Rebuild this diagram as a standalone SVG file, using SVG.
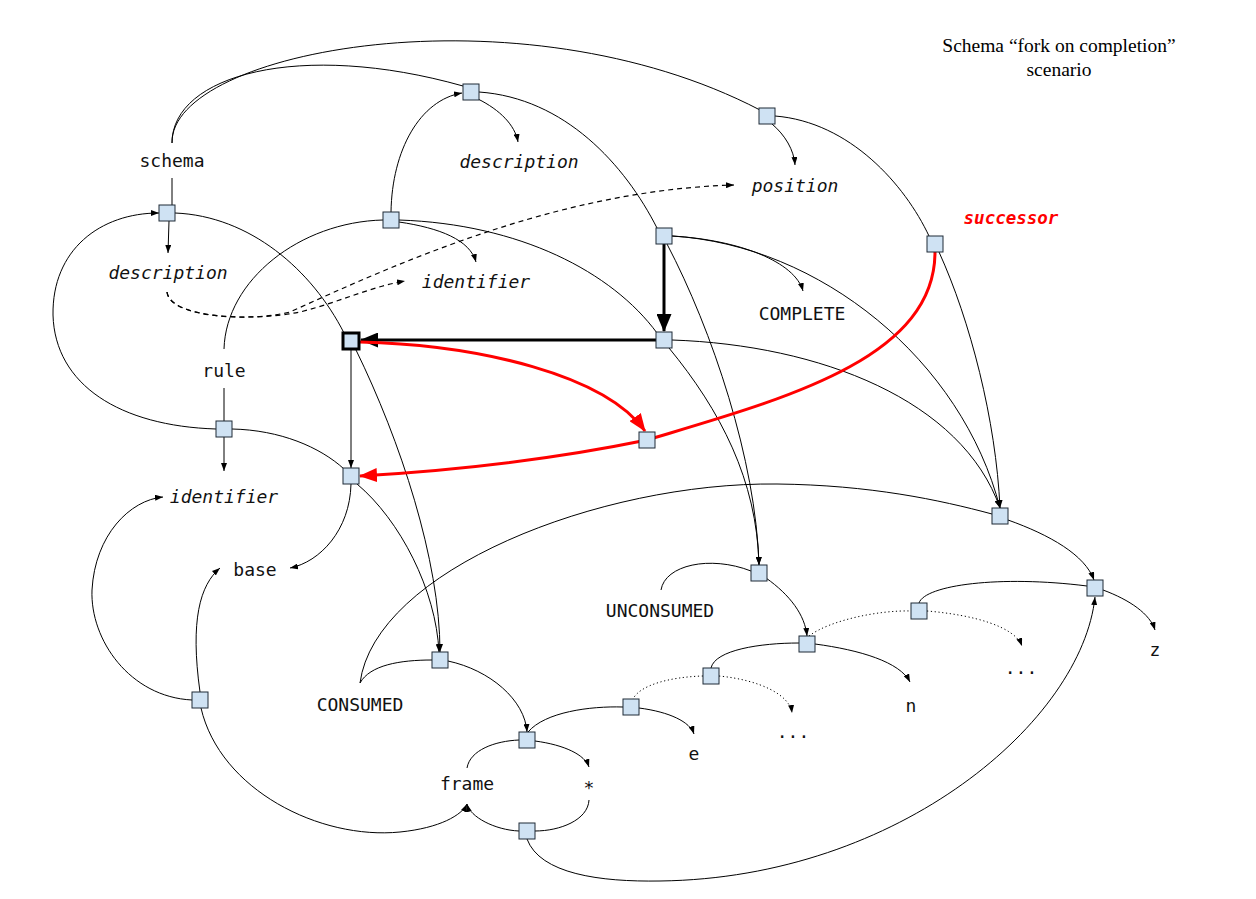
<svg xmlns="http://www.w3.org/2000/svg" width="1256" height="899" viewBox="0 0 1256 899">
  <style>
    .ln { fill: none; stroke: #000; stroke-width: 1; }
    .dash { fill: none; stroke: #000; stroke-width: 1.2; stroke-dasharray: 5 4; }
    .dot { fill: none; stroke: #000; stroke-width: 1; stroke-dasharray: 1.2 2.6; }
    .thick { fill: none; stroke: #000; stroke-width: 3; }
    .red { fill: none; stroke: #f00; stroke-width: 3; }
    .box { fill: #cfe2f3; stroke: #1f2a36; stroke-width: 1; }
    .bold { fill: #cfe2f3; stroke: #000; stroke-width: 3; }
    .t { font-family: "DejaVu Sans Mono", "Liberation Mono", monospace; font-size: 18px; fill: #111; text-anchor: middle; }
    .i { font-style: italic; }
    .succ { font-family: "DejaVu Sans Mono", "Liberation Mono", monospace; font-size: 17.5px; font-style: italic; font-weight: bold; fill: #f00; text-anchor: middle; }
    .title { font-family: "Liberation Serif", "Times New Roman", serif; font-size: 19.5px; fill: #000; text-anchor: middle; }
  </style>
  <defs>
    <marker id="a" markerUnits="userSpaceOnUse" markerWidth="8" markerHeight="6" viewBox="0 0 8 6" refX="8" refY="3" orient="auto">
      <path d="M0,0 L8,3 L0,6 z" fill="#000"/>
    </marker>
    <marker id="ab" markerUnits="userSpaceOnUse" markerWidth="18" markerHeight="15" viewBox="0 0 18 15" refX="17" refY="7.5" orient="auto">
      <path d="M0,0 L18,7.5 L0,15 z" fill="#000"/>
    </marker>
    <marker id="ar" markerUnits="userSpaceOnUse" markerWidth="18" markerHeight="14" viewBox="0 0 18 14" refX="17" refY="7" orient="auto">
      <path d="M0,0 L18,7 L0,14 z" fill="#f00"/>
    </marker>
  </defs>

  <rect width="1256" height="899" fill="#fff"/>

  <g id="connectors">
    <!-- schema arcs over the top -->
    <path class="ln" d="M172,143 C172,75 300,40 463,86"/>
    <path class="ln" d="M172,143 C170,50 520,-15 760,110"/>
    <path class="ln" d="M479,92 C565,98 625,165 657,228"/>
    <path class="ln" d="M775,116 C850,122 905,185 929,236"/>
    <path class="ln" d="M478,99 C500,110 515,125 518,142" marker-end="url(#a)"/>
    <path class="ln" d="M772,124 C785,135 794,150 795,165" marker-end="url(#a)"/>
    <!-- rule -->
    <path class="ln" d="M391,212 C392,150 420,100 462,93" marker-end="url(#a)"/>
    <path class="ln" d="M399,222 C440,228 470,240 476,262" marker-end="url(#a)"/>
    <path class="ln" d="M224,349 C226,280 300,222 383,220"/>
    <path class="ln" d="M399,220 C520,224 612,272 657,333"/>
    <!-- schema down -->
    <path class="ln" d="M172,178 L172,205"/>
    <path class="ln" d="M169,221 L168,253" marker-end="url(#a)"/>
    <path class="ln" d="M175,213 C250,216 312,270 344,333"/>
    <path class="ln" d="M216,429 C120,426 55,385 53,315 C52,250 100,213 159,213" marker-end="url(#a)"/>
    <!-- rule down -->
    <path class="ln" d="M224,388 L224,421"/>
    <path class="ln" d="M224,437 L224,471" marker-end="url(#a)"/>
    <path class="ln" d="M232,429 C280,430 320,447 344,469"/>
    <!-- dashed references -->
    <path class="dash" d="M167,292 C170,318 250,322 300,312 C340,302 370,287 405,281" marker-end="url(#a)"/>
    <path class="dash" d="M167,292 C170,318 250,322 290,312 C400,262 560,190 734,185" marker-end="url(#a)"/>
    <!-- completion fork -->
    <path class="thick" d="M664,244 L664,331" marker-end="url(#ab)"/>
    <path class="thick" d="M656,340 L361,340" marker-end="url(#ab)"/>
    <path class="ln" d="M351,350 L351,468" marker-end="url(#a)"/>
    <path class="ln" d="M356,350 C400,440 440,560 440,652" marker-end="url(#a)"/>
    <path class="ln" d="M669,348 C720,410 757,480 759,565" marker-end="url(#a)"/>
    <path class="ln" d="M667,244 C712,330 756,460 759,565" marker-end="url(#a)"/>
    <path class="ln" d="M672,236 C740,240 795,262 803,291" marker-end="url(#a)"/>
    <path class="ln" d="M672,236 C820,245 962,360 1000,508" marker-end="url(#a)"/>
    <path class="ln" d="M939,252 C970,320 996,420 1000,508" marker-end="url(#a)"/>
    <path class="ln" d="M672,340 C820,345 962,400 1000,508" marker-end="url(#a)"/>
    <!-- red successor path -->
    <path class="red" d="M360,342 C480,345 605,375 645,431" marker-end="url(#ar)"/>
    <path class="red" d="M935,252 C935,360 780,400 647,440 C540,462 430,472 360,476" marker-end="url(#ar)"/>
    <!-- CONSUMED / UNCONSUMED chains -->
    <path class="ln" d="M360,683 C375,570 600,482 777,484 C870,485 940,500 992,514"/>
    <path class="ln" d="M1008,520 C1050,535 1085,555 1094,580" marker-end="url(#a)"/>
    <path class="ln" d="M661,590 C665,565 710,555 751,571"/>
    <path class="ln" d="M766,578 C790,595 805,615 807,636" marker-end="url(#a)"/>
    <path class="ln" d="M815,644 C860,650 900,662 910,682" marker-end="url(#a)"/>
    <path class="ln" d="M711,668 C715,650 760,643 799,643"/>
    <path class="dot" d="M809,636 C830,620 880,610 911,611"/>
    <path class="dot" d="M927,611 C975,615 1015,627 1022,646" marker-end="url(#a)"/>
    <path class="ln" d="M919,603 C925,585 1000,575 1087,586"/>
    <path class="ln" d="M1103,590 C1130,600 1150,614 1155,630" marker-end="url(#a)"/>
    <path class="ln" d="M527,839 C540,874 600,882 660,881 C900,878 1082,720 1095,597" marker-end="url(#a)"/>
    <path class="dot" d="M703,676 C670,677 640,685 633,699"/>
    <path class="dot" d="M719,676 C760,680 790,695 792,713" marker-end="url(#a)"/>
    <path class="ln" d="M528,732 C545,712 590,706 623,707"/>
    <path class="ln" d="M639,708 C670,712 690,722 694,734" marker-end="url(#a)"/>
    <path class="ln" d="M360,683 C370,665 400,660 432,660"/>
    <path class="ln" d="M448,661 C490,670 525,700 527,732" marker-end="url(#a)"/>
    <path class="ln" d="M467,768 C470,750 495,741 519,740"/>
    <path class="ln" d="M535,741 C565,745 585,755 589,767" marker-end="url(#a)"/>
    <path class="ln" d="M589,800 C588,820 560,831 535,831"/>
    <path class="ln" d="M519,831 C495,830 470,817 467,804" marker-end="url(#a)"/>
    <!-- base / identifier loops -->
    <path class="ln" d="M200,692 C190,620 200,585 220,568" marker-end="url(#a)"/>
    <path class="ln" d="M192,700 C130,697 90,640 92,590 C95,535 130,500 163,497" marker-end="url(#a)"/>
    <path class="ln" d="M201,708 C220,790 320,840 400,832 C440,828 462,815 467,804" marker-end="url(#a)"/>
    <path class="ln" d="M351,484 C350,530 320,562 290,568" marker-end="url(#a)"/>
    <path class="ln" d="M357,484 C400,520 436,590 439,652" marker-end="url(#a)"/>
  </g>

  <g id="n-desc"><rect class="box" x="463" y="84" width="16" height="16"/></g>
  <g id="n-pos"><rect class="box" x="759" y="108" width="16" height="16"/></g>
  <g id="n-schema"><rect class="box" x="159" y="205" width="16" height="16"/></g>
  <g id="n-rule"><rect class="box" x="383" y="212" width="16" height="16"/></g>
  <g id="n-comp"><rect class="box" x="656" y="228" width="16" height="16"/></g>
  <g id="n-succ"><rect class="box" x="927" y="236" width="16" height="16"/></g>
  <g id="n-fork"><rect class="bold" x="343" y="333" width="16" height="16"/></g>
  <g id="n-mid"><rect class="box" x="656" y="332" width="16" height="16"/></g>
  <g id="n-red"><rect class="box" x="639" y="432" width="16" height="16"/></g>
  <g id="n-rid"><rect class="box" x="216" y="421" width="16" height="16"/></g>
  <g id="n-base"><rect class="box" x="343" y="468" width="16" height="16"/></g>
  <g id="n-z1"><rect class="box" x="992" y="508" width="16" height="16"/></g>
  <g id="n-unc"><rect class="box" x="751" y="565" width="16" height="16"/></g>
  <g id="n-z2"><rect class="box" x="1087" y="580" width="16" height="16"/></g>
  <g id="n-d2"><rect class="box" x="911" y="603" width="16" height="16"/></g>
  <g id="n-n"><rect class="box" x="799" y="636" width="16" height="16"/></g>
  <g id="n-d1"><rect class="box" x="703" y="668" width="16" height="16"/></g>
  <g id="n-cons"><rect class="box" x="432" y="652" width="16" height="16"/></g>
  <g id="n-e"><rect class="box" x="623" y="699" width="16" height="16"/></g>
  <g id="n-left"><rect class="box" x="192" y="692" width="16" height="16"/></g>
  <g id="n-star"><rect class="box" x="519" y="732" width="16" height="16"/></g>
  <g id="n-bot"><rect class="box" x="519" y="823" width="16" height="16"/></g>

  <g id="labels">
    <text class="title" x="1059" y="52">Schema “fork on completion”</text>
    <text class="title" x="1059" y="76">scenario</text>
    <text class="t" x="172" y="167">schema</text>
    <text class="t i" x="519" y="168">description</text>
    <text class="t i" x="795" y="192">position</text>
    <text class="succ" x="1011" y="224">successor</text>
    <text class="t i" x="168" y="279">description</text>
    <text class="t i" x="476" y="288">identifier</text>
    <text class="t" x="802" y="320">COMPLETE</text>
    <text class="t" x="224" y="377">rule</text>
    <text class="t i" x="224" y="503">identifier</text>
    <text class="t" x="255" y="576">base</text>
    <text class="t" x="660" y="617">UNCONSUMED</text>
    <text class="t" x="360" y="711">CONSUMED</text>
    <text class="t" x="467" y="790">frame</text>
    <text class="t" x="589" y="794">*</text>
    <text class="t" x="694" y="760">e</text>
    <text class="t" x="793" y="738">...</text>
    <text class="t" x="911" y="712">n</text>
    <text class="t" x="1021" y="674">...</text>
    <text class="t" x="1155" y="656">z</text>
  </g>
</svg>
